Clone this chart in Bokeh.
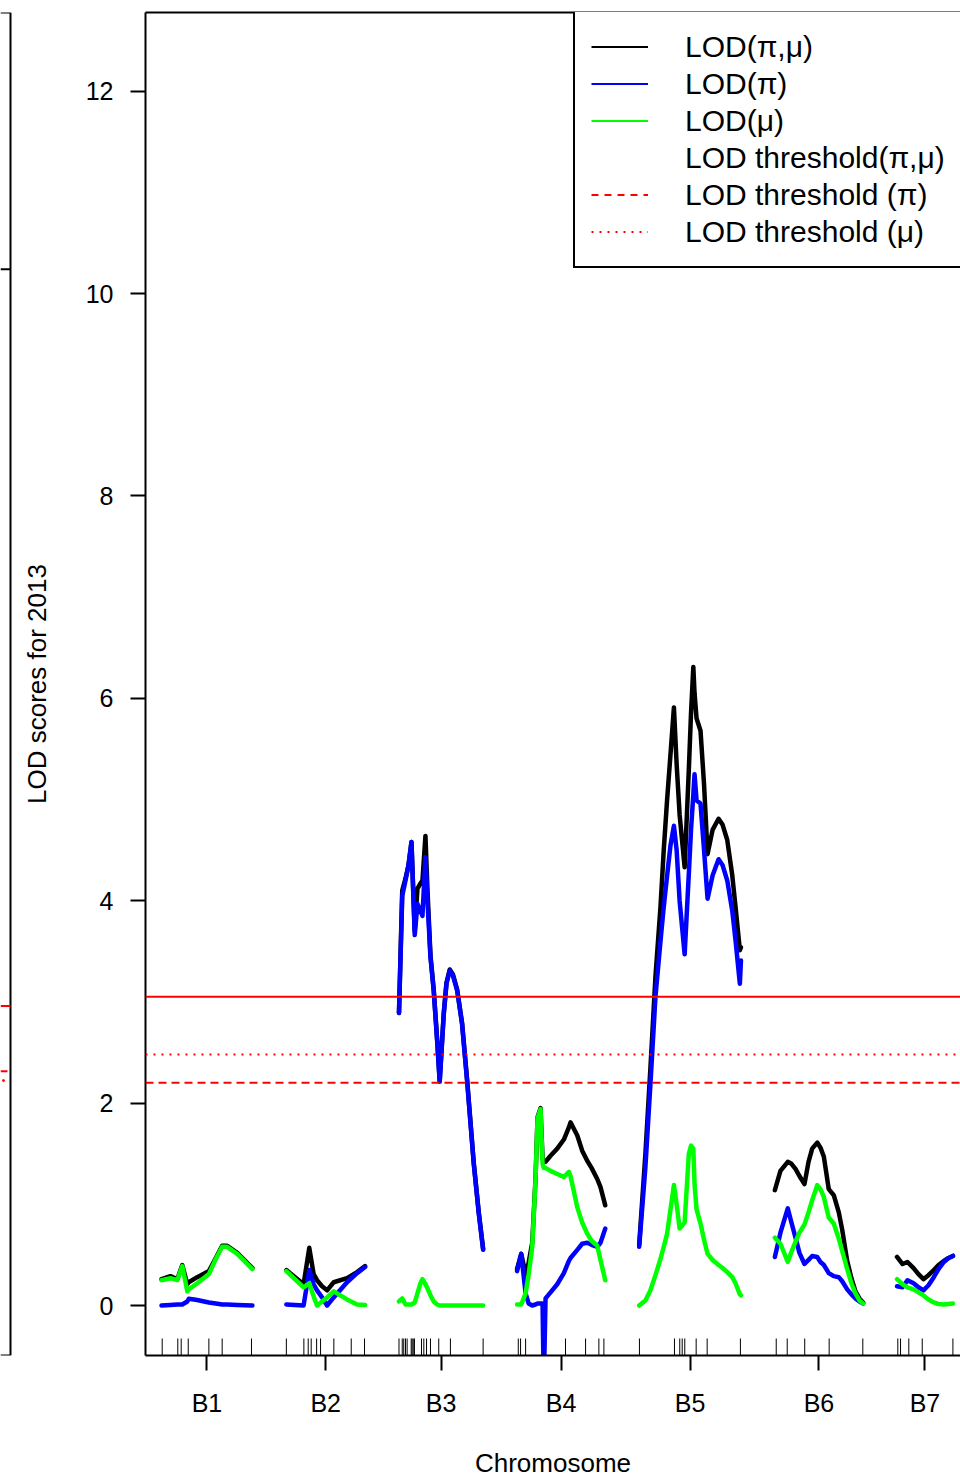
import numpy as np
from bokeh.plotting import figure
from bokeh.models import Range1d, LinearAxis, FixedTicker, Legend, LegendItem, Span
from bokeh.layouts import row
from bokeh.embed import file_html
from bokeh.resources import INLINE

FONT = "Liberation Sans"

# ---------------- data ----------------
chromosomes = ["B1", "B2", "B3", "B4", "B5", "B6", "B7"]
chrom_lengths = [67.0, 58.0, 62.0, 65.0, 75.0, 65.0, 41.2]   # cM
chrom_gap = 25.0                                              # cM between chromosomes

# positions (cM within chromosome) and LOD curves
b1_pos = [0, 6.6, 11.6, 15.3, 19.0, 20.1, 26.3, 34.9, 40.0, 44.7, 48.4, 55.8, 67.0]
b1_pm = [0.26, 0.29, 0.26, 0.40, 0.21, 0.23, 0.28, 0.34, 0.47, 0.59, 0.59, 0.52, 0.37]
b1_p = [0.00, 0.005, 0.01, 0.01, 0.04, 0.067, 0.055, 0.03, 0.02, 0.01, 0.01, 0.005, 0.00]
b1_m = [0.25, 0.27, 0.25, 0.39, 0.14, 0.16, 0.22, 0.31, 0.46, 0.58, 0.58, 0.51, 0.36]

b2_pos = [0, 12.7, 16.9, 20.1, 22.6, 26.3, 30.0, 34.9, 44.7, 52.1, 58.0]
b2_pm = [0.35, 0.21, 0.57, 0.31, 0.25, 0.19, 0.15, 0.23, 0.27, 0.33, 0.39]
b2_p = [0.01, 0.00, 0.35, 0.21, 0.15, 0.08, 0.00, 0.08, 0.23, 0.32, 0.38]
b2_m = [0.34, 0.18, 0.22, 0.09, 0.00, 0.04, 0.08, 0.14, 0.06, 0.01, 0.005]

b3_pos = [0, 2.4, 4.8, 7.0, 9.2, 11.6, 13.6, 15.8, 17.3, 19.5, 21.0, 23.2, 25.6, 28.1,
          30.0, 33.0, 35.0, 37.4, 39.8, 42.9, 46.5, 50.2, 55.1, 58.8, 62.0]
b3_pm = [2.89, 4.10, 4.22, 4.35, 4.58, 3.70, 4.12, 4.17, 4.20, 4.64, 4.10, 3.46, 3.12, 2.63,
         2.22, 2.89, 3.19, 3.32, 3.27, 3.12, 2.79, 2.23, 1.41, 0.92, 0.56]
b3_p = [2.89, 4.05, 4.20, 4.35, 4.58, 3.66, 3.97, 3.90, 3.85, 4.43, 4.00, 3.44, 3.11, 2.62,
        2.21, 2.88, 3.18, 3.31, 3.26, 3.11, 2.78, 2.22, 1.40, 0.91, 0.55]
b3_m = [0.04, 0.07, 0.01, 0.01, 0.01, 0.03, 0.12, 0.22, 0.26, 0.21, 0.17, 0.10, 0.04, 0.01,
        0.0, 0.0, 0.0, 0.0, 0.0, 0.0, 0.0, 0.0, 0.0, 0.0, 0.0]

b4_pos = [0, 3.1, 6.3, 8.5, 11.2, 13.6, 15.1, 17.3, 18.8, 19.7, 21.0, 24.7, 29.6, 34.5,
          38.2, 39.4, 44.4, 48.0, 51.7, 54.9, 59.1, 61.5, 65.0]
b4_pm = [0.36, 0.51, 0.31, 0.42, 0.62, 1.25, 1.86, 1.95, 1.45, 1.42, 1.42, 1.48, 1.55, 1.64,
         1.76, 1.81, 1.68, 1.53, 1.43, 1.36, 1.25, 1.17, 0.99]
b4_p = [0.34, 0.51, 0.12, 0.02, 0.00, 0.01, 0.02, 0.02, 0.02, -0.80, 0.07, 0.13, 0.21, 0.32,
        0.44, 0.47, 0.55, 0.61, 0.62, 0.60, 0.58, 0.62, 0.76]
b4_m = [0.01, 0.01, 0.12, 0.30, 0.58, 1.24, 1.85, 1.94, 1.40, 1.36, 1.36, 1.33, 1.30, 1.27,
        1.32, 1.28, 0.97, 0.82, 0.71, 0.64, 0.59, 0.45, 0.25]

b5_pos = [0, 4.6, 8.3, 12.0, 15.7, 18.1, 20.6, 23.1, 25.6, 27.6, 29.8, 33.5, 36.6, 38.2,
          39.9, 40.8, 42.3, 45.2, 47.8, 50.4, 54.1, 58.5, 61.5, 64.9, 68.6, 71.0, 74.2, 75.0]
b5_pm = [0.60, 1.50, 2.35, 3.25, 3.94, 4.50, 5.00, 5.45, 5.91, 5.35, 4.85, 4.33, 5.30, 5.85,
         6.31, 6.05, 5.80, 5.68, 5.15, 4.46, 4.70, 4.81, 4.75, 4.60, 4.25, 3.94, 3.51, 3.54]
b5_p = [0.58, 1.37, 2.19, 3.05, 3.60, 3.94, 4.25, 4.55, 4.74, 4.50, 4.00, 3.47, 4.27, 4.70,
        5.05, 5.25, 4.99, 4.96, 4.50, 4.02, 4.25, 4.41, 4.35, 4.20, 3.90, 3.61, 3.18, 3.41]
b5_m = [0.00, 0.05, 0.15, 0.30, 0.46, 0.58, 0.71, 0.95, 1.19, 1.00, 0.76, 0.82, 1.50, 1.58,
        1.55, 1.20, 0.95, 0.81, 0.65, 0.51, 0.45, 0.40, 0.37, 0.33, 0.28, 0.22, 0.11, 0.10]

b6_pos = [0, 4.1, 9.5, 12.2, 15.2, 18.1, 21.8, 24.8, 27.5, 31.2, 33.6, 36.1, 39.7, 43.4,
          47.1, 49.6, 53.3, 56.4, 59.4, 62.3, 65.0]
b6_pm = [1.14, 1.33, 1.42, 1.40, 1.35, 1.28, 1.20, 1.42, 1.55, 1.61, 1.56, 1.47, 1.15, 1.09,
         0.92, 0.75, 0.44, 0.27, 0.14, 0.07, 0.03]
b6_p = [0.48, 0.72, 0.96, 0.82, 0.67, 0.52, 0.41, 0.45, 0.49, 0.48, 0.43, 0.40, 0.32, 0.29,
        0.28, 0.24, 0.16, 0.11, 0.07, 0.04, 0.02]
b6_m = [0.67, 0.61, 0.43, 0.53, 0.63, 0.72, 0.80, 0.92, 1.04, 1.19, 1.15, 1.07, 0.87, 0.81,
        0.66, 0.54, 0.36, 0.22, 0.12, 0.05, 0.02]

b7_pos = [0, 4.1, 7.7, 12.2, 15.8, 19.5, 23.2, 27.1, 30.6, 34.5, 38.0, 41.2]
b7_pm = [0.48, 0.41, 0.43, 0.37, 0.31, 0.26, 0.30, 0.35, 0.40, 0.44, 0.47, 0.49]
b7_p = [0.19, 0.18, 0.25, 0.22, 0.18, 0.15, 0.20, 0.28, 0.36, 0.43, 0.47, 0.49]
b7_m = [0.26, 0.21, 0.18, 0.16, 0.13, 0.10, 0.06, 0.03, 0.015, 0.01, 0.015, 0.02]

# marker positions (cM within chromosome), shown as rug
b1_markers = [0.5, 12.0, 14.5, 19.7, 34.9, 44.7, 66.3]
b2_markers = [0.0, 12.9, 16.1, 18.3, 22.3, 25.2, 35.0, 47.8, 57.6]
b3_markers = [0.0, 2.4, 3.5, 4.8, 6.0, 9.0, 9.7, 10.5, 11.4, 16.6, 18.3, 20.3, 23.2, 29.3, 37.9, 62.0]
b4_markers = [0.9, 2.6, 6.3, 19.5, 35.7, 50.5, 60.3, 64.0]
b5_markers = [0.2, 26.0, 29.9, 31.7, 33.6, 42.0, 50.1, 74.6]
b6_markers = [1.0, 9.1, 22.0, 40.0, 64.8]
b7_markers = [0.6, 2.6, 8.7, 18.6, 41.2]

# LOD thresholds
thr_pm = 3.05
thr_p = 2.20
thr_m = 2.48

# neighbouring (cropped) panel on the left
left_panel_thresholds = [2.96, 2.315, 2.223]
left_panel_legend_bottom = 10.24

y_ticks = [0, 2, 4, 6, 8, 10, 12]
legend_labels = ["LOD(\u03c0,\u03bc)", "LOD(\u03c0)", "LOD(\u03bc)",
                 "LOD threshold(\u03c0,\u03bc)", "LOD threshold (\u03c0)", "LOD threshold (\u03bc)"]

# ---------------- assemble ----------------
starts = np.concatenate([[0.0], np.cumsum(np.array(chrom_lengths[:-1]) + chrom_gap)])
mids = [round(float(s + L / 2.0), 2) for s, L in zip(starts, chrom_lengths)]

all_pos = [b1_pos, b2_pos, b3_pos, b4_pos, b5_pos, b6_pos, b7_pos]
all_pm = [b1_pm, b2_pm, b3_pm, b4_pm, b5_pm, b6_pm, b7_pm]
all_p = [b1_p, b2_p, b3_p, b4_p, b5_p, b6_p, b7_p]
all_m = [b1_m, b2_m, b3_m, b4_m, b5_m, b6_m, b7_m]
all_markers = [b1_markers, b2_markers, b3_markers, b4_markers, b5_markers, b6_markers, b7_markers]


def genome(pos_lists, val_lists):
    xs, ys = [], []
    for s, pos, val in zip(starts, pos_lists, val_lists):
        xs.extend((s + np.asarray(pos, dtype=float)).tolist())
        xs.append(np.nan)
        ys.extend([float(v) for v in val])
        ys.append(np.nan)
    return np.array(xs), np.array(ys)


rug_x = np.concatenate([s + np.asarray(m, dtype=float) for s, m in zip(starts, all_markers)])

# layout (pixels)
TOTAL_W, TOTAL_H = 960, 1480
SLIVER_W = 12
MAIN_W = TOTAL_W - SLIVER_W
FRAME_LEFT = 145 - SLIVER_W
FRAME_TOP = 12
FRAME_BOTTOM_BORDER = TOTAL_H - 1355
PX_PER_CM = 1.357

Y0, Y1 = -0.494, 12.777
X0 = -chrom_gap / 2.0 + 0.7
X1 = X0 + (MAIN_W - FRAME_LEFT) / PX_PER_CM
y_range = Range1d(Y0, Y1)
x_range = Range1d(X0, X1)

# ---------------- main panel ----------------
p = figure(width=MAIN_W, height=TOTAL_H, x_range=x_range, y_range=y_range,
           output_backend="svg", toolbar_location=None,
           min_border_left=FRAME_LEFT, min_border_right=0, min_border_top=FRAME_TOP,
           min_border_bottom=FRAME_BOTTOM_BORDER,
           x_axis_location=None, y_axis_location=None)
p.outline_line_color = None
p.grid.visible = False
p.background_fill_color = "white"
p.border_fill_color = "white"


def style_axis(ax):
    ax.axis_line_width = 2
    ax.axis_line_color = "black"
    ax.major_tick_line_width = 2
    ax.major_tick_line_color = "black"
    ax.major_tick_out = 15
    ax.major_tick_in = 0
    ax.minor_tick_line_color = None
    ax.major_label_text_font = FONT
    ax.major_label_text_font_size = "25px"
    ax.major_label_text_color = "black"
    ax.axis_label_text_font = FONT
    ax.axis_label_text_font_size = "26px"
    ax.axis_label_text_font_style = "normal"
    ax.axis_label_text_color = "black"


yaxis = LinearAxis(ticker=FixedTicker(ticks=y_ticks), axis_label="LOD scores for 2013")
style_axis(yaxis)
yaxis.major_label_standoff = 17
yaxis.axis_label_standoff = 31
p.add_layout(yaxis, "left")

xaxis = LinearAxis(ticker=FixedTicker(ticks=mids),
                   major_label_overrides={m: c for m, c in zip(mids, chromosomes)},
                   axis_label="Chromosome")
style_axis(xaxis)
xaxis.major_label_standoff = 18
xaxis.axis_label_standoff = 28
p.add_layout(xaxis, "below")

top = LinearAxis(ticker=FixedTicker(ticks=[]))
style_axis(top)
top.major_label_text_font_size = "0px"
top.major_tick_out = 0
p.add_layout(top, "above")

# curves
for vals, col in ((all_pm, "black"), (all_p, "#0000FF"), (all_m, "#00FF00")):
    gx, gy = genome(all_pos, vals)
    p.line(gx, gy, line_color=col, line_width=4.5, line_join="round", line_cap="round")

# rug of markers
rug_len = 0.168
p.segment(x0=rug_x, y0=np.full(len(rug_x), Y0), x1=rug_x, y1=np.full(len(rug_x), Y0 + rug_len),
          line_color="black", line_width=1)

# thresholds
p.add_layout(Span(location=thr_pm, dimension="width", line_color="#FF0000", line_width=2))
p.add_layout(Span(location=thr_p, dimension="width", line_color="#FF0000", line_width=2,
                  line_dash="8 5"))
p.add_layout(Span(location=thr_m, dimension="width", line_color="#FF0000", line_width=2,
                  line_dash="2 6"))

# legend (thin line samples; dummy renderers lie outside the visible range)
off_x = [X0 - 50, X0 - 40]
off_y = [Y0 - 5, Y0 - 5]
r1 = p.line(off_x, off_y, line_color="black", line_width=2)
r2 = p.line(off_x, off_y, line_color="#0000FF", line_width=2)
r3 = p.line(off_x, off_y, line_color="#00FF00", line_width=2)
r4 = p.line(off_x, off_y, line_color="white", line_alpha=0)
r5 = p.line(off_x, off_y, line_color="#FF0000", line_width=2, line_dash="7 6")
r6 = p.line(off_x, off_y, line_color="#FF0000", line_width=2, line_dash="2 6")
items = [LegendItem(label=lab, renderers=[r]) for lab, r in zip(legend_labels, [r1, r2, r3, r4, r5, r6])]
LEG_PAD, LEG_ROW = 16, 37
leg_h = 2 * LEG_PAD + LEG_ROW * len(items)
frame_h = TOTAL_H - FRAME_TOP - FRAME_BOTTOM_BORDER
legend = Legend(items=items, location=(573 - 145, frame_h - leg_h - 2))
legend.border_line_color = "black"
legend.border_line_alpha = 1.0
legend.border_line_width = 2
legend.background_fill_color = "white"
legend.background_fill_alpha = 1.0
legend.padding = LEG_PAD
legend.spacing = 0
legend.margin = 0
legend.glyph_width = 57
legend.glyph_height = LEG_ROW
legend.label_height = LEG_ROW
legend.label_width = 330
legend.label_standoff = 37
legend.label_text_font = FONT
legend.label_text_font_size = "30px"
legend.label_text_color = "black"
legend.label_text_baseline = "middle"
p.add_layout(legend)

# ---------------- cropped neighbouring panel (left sliver) ----------------
left = figure(width=SLIVER_W, height=TOTAL_H, x_range=Range1d(0, SLIVER_W), y_range=y_range,
              output_backend="svg", toolbar_location=None,
              min_border_left=0, min_border_right=0, min_border_top=FRAME_TOP,
              min_border_bottom=FRAME_BOTTOM_BORDER,
              x_axis_location=None, y_axis_location=None)
left.outline_line_color = None
left.grid.visible = False
left.background_fill_color = "white"
left.border_fill_color = "white"
EDGE = 10
left.segment(x0=[EDGE], y0=[Y0], x1=[EDGE], y1=[Y1], line_color="black", line_width=2)
left.segment(x0=[0, 0, 0], y0=[Y1, Y0, left_panel_legend_bottom],
             x1=[EDGE, EDGE, EDGE], y1=[Y1, Y0, left_panel_legend_bottom], line_color="black", line_width=2)
left.segment(x0=[0], y0=[left_panel_thresholds[0]], x1=[EDGE], y1=[left_panel_thresholds[0]],
             line_color="#FF0000", line_width=2)
left.segment(x0=[0], y0=[left_panel_thresholds[1]], x1=[7], y1=[left_panel_thresholds[1]],
             line_color="#FF0000", line_width=2)
left.scatter(x=[3], y=[left_panel_thresholds[2]], size=2, color="#FF0000")

layout = row(left, p)
open("out.html", "w").write(file_html(layout, INLINE))
